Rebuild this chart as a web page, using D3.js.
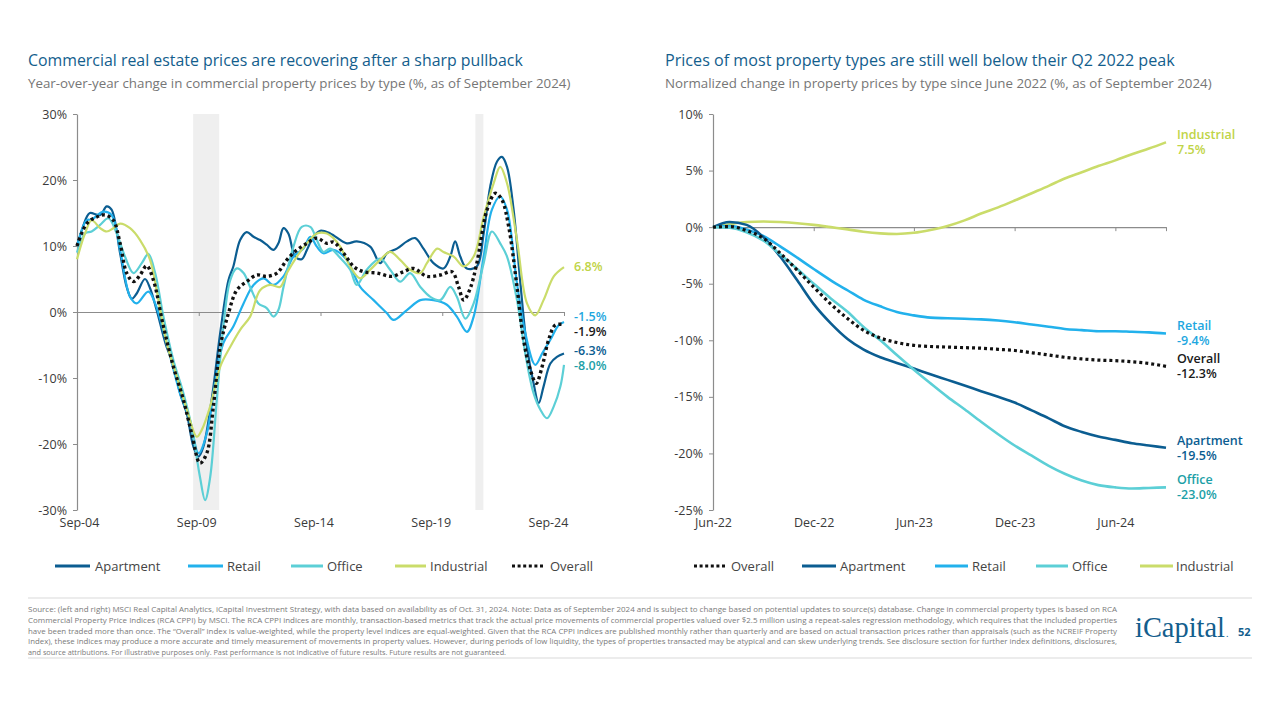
<!DOCTYPE html>
<html><head><meta charset="utf-8">
<script src="https://cdn.jsdelivr.net/npm/d3@7"></script>
<style>
body{margin:0;background:#fff;}
svg{display:block;font-family:"Open Sans",sans-serif;}
</style></head><body>
<svg id="c" width="1280" height="720"></svg>
<script>
// ---------------- DATA ----------------
// Left chart: year-over-year change (%), [decimal year, value]
const yoyTicks = [2004.67, 2009.67, 2014.67, 2019.67, 2024.67];
const yoyTickLabels = ["Sep-04", "Sep-09", "Sep-14", "Sep-19", "Sep-24"];
const yoyYTicks = [-30, -20, -10, 0, 10, 20, 30];
const shadedPeriods = [[2009.44, 2010.51], [2021.03, 2021.36]];

const yoyApartment = [[2004.67,10],[2005.07,14.4],[2005.20,15.0],[2005.62,14.7],[2005.89,16.0],[2006.09,15.5],[2006.44,8.9],[2006.71,3.8],[2006.92,2.0],[2007.12,2.8],[2007.46,5.0],[2007.67,3.6],[2007.94,0.3],[2008.35,-5.3],[2008.63,-7.8],[2008.90,-12.3],[2009.18,-15.4],[2009.45,-20.4],[2009.66,-21.9],[2009.86,-20.4],[2010.20,-13.3],[2010.55,-3.2],[2010.89,4.8],[2011.09,6.9],[2011.37,10.9],[2011.64,12.1],[2011.92,11.4],[2012.19,10.9],[2012.46,10.2],[2012.74,9.4],[2012.94,10.4],[2013.15,12.7],[2013.35,11.9],[2013.63,8.4],[2013.90,8.0],[2014.11,9.4],[2014.38,11.4],[2014.66,12.3],[2015.07,11.9],[2015.75,10.4],[2016.16,10.7],[2016.71,9.9],[2017.12,7.4],[2017.40,8.9],[2017.81,9.6],[2018.22,10.7],[2018.56,11.2],[2018.90,9.6],[2019.31,7.4],[2019.72,6.6],[2020.00,8.4],[2020.20,10.7],[2020.41,8.4],[2020.68,6.6],[2021.09,6.9],[2021.37,11.9],[2021.64,19.0],[2021.92,22.8],[2022.12,23.5],[2022.33,22.0],[2022.60,15.5],[2022.88,4.3],[2023.15,-5.3],[2023.42,-10.8],[2023.63,-13.8],[2023.83,-11.3],[2024.11,-7.8],[2024.38,-6.8],[2024.67,-6.3]];

const yoyRetail = [[2004.67,10],[2005.07,13.9],[2005.27,14.0],[2005.75,15.2],[2006.09,14.7],[2006.44,9.4],[2006.85,2.3],[2007.12,1.3],[2007.60,3.1],[2007.88,1.3],[2008.35,-4.7],[2008.90,-12.3],[2009.31,-16.4],[2009.66,-21.4],[2010.00,-18.4],[2010.34,-10.8],[2010.68,-4.7],[2011.09,-2.2],[2011.51,1.3],[2011.92,4.1],[2012.33,5.1],[2012.74,4.1],[2013.15,5.4],[2013.56,8.4],[2013.97,9.6],[2014.25,11.4],[2014.52,9.9],[2014.79,8.9],[2015.20,9.4],[2015.75,7.9],[2016.30,3.8],[2016.85,1.8],[2017.40,-0.2],[2017.67,-1.2],[2018.22,0.3],[2018.77,1.8],[2019.31,1.8],[2019.86,1.1],[2020.27,-0.7],[2020.68,-3.0],[2020.96,-0.7],[2021.37,8.4],[2021.71,15.5],[2022.05,17.5],[2022.33,15.5],[2022.74,4.3],[2023.08,-3.2],[2023.49,-8.0],[2023.77,-6.3],[2024.11,-4.2],[2024.45,-2.0],[2024.67,-1.5]];

const yoyOffice = [[2004.67,9.0],[2005.00,11.9],[2005.27,12.2],[2005.62,13.2],[2005.96,14.2],[2006.30,11.9],[2006.64,8.4],[2006.99,5.9],[2007.33,7.4],[2007.60,8.8],[2007.88,5.9],[2008.22,-0.7],[2008.63,-7.3],[2009.04,-12.3],[2009.38,-17.4],[2009.72,-25.0],[2009.93,-28.5],[2010.14,-25.0],[2010.41,-13.3],[2010.68,-2.2],[2010.96,4.8],[2011.23,6.6],[2011.51,5.9],[2011.78,3.8],[2012.12,1.3],[2012.46,0.6],[2012.74,-0.7],[2012.94,0.3],[2013.15,3.8],[2013.56,9.9],[2013.90,12.9],[2014.25,12.9],[2014.52,10.9],[2014.79,9.1],[2015.07,9.6],[2015.48,8.2],[2015.89,6.4],[2016.16,4.1],[2016.57,6.4],[2017.12,8.1],[2017.53,6.4],[2017.94,4.6],[2018.35,5.9],[2018.77,3.8],[2019.18,2.3],[2019.59,1.8],[2020.00,3.8],[2020.27,2.3],[2020.62,-1.0],[2020.96,1.3],[2021.37,7.4],[2021.71,12.2],[2022.05,10.4],[2022.33,8.4],[2022.74,1.8],[2023.08,-6.3],[2023.42,-12.3],[2023.70,-14.8],[2023.97,-16.1],[2024.25,-14.3],[2024.52,-11.3],[2024.67,-8.0]];

const yoyIndustrial = [[2004.67,8.0],[2005.00,11.9],[2005.27,13.9],[2005.62,12.7],[2005.89,12.2],[2006.16,12.7],[2006.44,13.4],[2006.85,12.7],[2007.26,10.9],[2007.67,7.9],[2007.94,3.3],[2008.35,-4.7],[2008.77,-9.8],[2009.18,-14.8],[2009.59,-18.9],[2009.79,-17.9],[2010.14,-14.3],[2010.55,-8.3],[2010.96,-5.3],[2011.37,-2.7],[2011.78,-0.7],[2012.19,3.3],[2012.60,4.1],[2013.01,3.8],[2013.29,5.9],[2013.70,8.4],[2014.11,10.4],[2014.52,11.9],[2014.93,11.9],[2015.20,11.2],[2015.48,9.9],[2015.89,6.9],[2016.30,5.1],[2016.71,6.4],[2017.12,7.9],[2017.53,9.1],[2017.94,7.9],[2018.35,6.4],[2018.77,5.9],[2019.04,7.4],[2019.46,9.6],[2019.72,9.1],[2020.14,8.4],[2020.55,6.9],[2020.96,8.4],[2021.37,14.4],[2021.78,19.5],[2022.05,22.0],[2022.33,19.5],[2022.74,10.9],[2023.15,1.3],[2023.49,-0.5],[2023.83,1.8],[2024.25,5.4],[2024.67,6.8]];

const yoyOverall = [[2004.67,10.0],[2005.07,13.4],[2005.48,14.4],[2005.82,14.7],[2006.16,13.9],[2006.44,10.4],[2006.71,5.9],[2006.99,4.6],[2007.26,5.6],[2007.53,7.0],[2007.81,4.8],[2008.22,-2.2],[2008.63,-8.3],[2009.04,-13.3],[2009.38,-18.4],[2009.72,-22.9],[2010.00,-21.4],[2010.27,-14.3],[2010.55,-5.3],[2010.89,-0.2],[2011.23,3.3],[2011.64,4.6],[2012.05,5.6],[2012.46,5.4],[2012.88,5.9],[2013.29,7.9],[2013.70,9.4],[2014.11,10.4],[2014.52,11.2],[2014.93,10.4],[2015.20,10.6],[2015.62,8.9],[2016.03,6.9],[2016.44,6.1],[2016.99,5.9],[2017.60,5.4],[2018.08,6.1],[2018.49,6.6],[2019.04,5.4],[2019.59,5.6],[2020.07,6.1],[2020.34,3.8],[2020.55,1.8],[2020.82,3.6],[2021.09,7.4],[2021.51,15.5],[2021.85,18.0],[2022.12,17.0],[2022.40,12.9],[2022.74,3.8],[2023.01,-4.2],[2023.29,-8.8],[2023.53,-10.8],[2023.77,-8.3],[2024.04,-4.2],[2024.31,-2.0],[2024.67,-1.9]];

const yoyEndLabels = [
  {series: "Industrial", value: 6.8, text: "6.8%"},
  {series: "Retail", value: -1.5, text: "-1.5%"},
  {series: "Overall", value: -1.9, text: "-1.9%"},
  {series: "Apartment", value: -6.3, text: "-6.3%"},
  {series: "Office", value: -8.0, text: "-8.0%"}
];

// Right chart: normalized change since June 2022 (%), monthly
const normMonths = ["2022-06","2022-07","2022-08","2022-09","2022-10","2022-11","2022-12",
  "2023-01","2023-02","2023-03","2023-04","2023-05","2023-06","2023-07","2023-08","2023-09","2023-10","2023-11","2023-12",
  "2024-01","2024-02","2024-03","2024-04","2024-05","2024-06","2024-07","2024-08","2024-09"];
const normTicks = ["2022-06","2022-12","2023-06","2023-12","2024-06"];
const normTickLabels = ["Jun-22","Dec-22","Jun-23","Dec-23","Jun-24"];
const normYTicks = [-25, -20, -15, -10, -5, 0, 5, 10];
const normOverall   = [0,0.05,-0.3,-1.0,-2.3,-3.8,-5.3,-6.8,-8.1,-9.1,-9.8,-10.2,-10.45,-10.55,-10.6,-10.65,-10.7,-10.8,-10.9,-11.1,-11.3,-11.5,-11.65,-11.75,-11.8,-11.9,-12.05,-12.3];
const normApartment = [0,0.45,0.2,-0.9,-2.6,-4.7,-6.8,-8.5,-9.9,-10.8,-11.5,-12.0,-12.5,-13.0,-13.5,-14.0,-14.5,-15.0,-15.5,-16.2,-16.9,-17.6,-18.1,-18.5,-18.8,-19.1,-19.3,-19.5];
const normRetail    = [0,0.1,-0.2,-0.8,-1.7,-2.7,-3.7,-4.7,-5.6,-6.4,-7.0,-7.5,-7.8,-8.0,-8.05,-8.1,-8.15,-8.25,-8.4,-8.6,-8.8,-9.0,-9.1,-9.2,-9.2,-9.25,-9.3,-9.4];
const normOffice    = [0,-0.05,-0.45,-1.2,-2.4,-3.7,-5.0,-6.3,-7.5,-8.8,-10.0,-11.3,-12.6,-13.8,-15.0,-16.1,-17.2,-18.3,-19.3,-20.2,-21.1,-21.8,-22.4,-22.8,-23.0,-23.1,-23.05,-23.0];
const normIndustrial= [0,0.25,0.45,0.5,0.45,0.35,0.2,0.0,-0.2,-0.4,-0.55,-0.6,-0.5,-0.25,0.1,0.6,1.2,1.75,2.35,3.0,3.65,4.3,4.85,5.4,5.9,6.45,6.95,7.5];
const normEndLabels = [
  {series: "Industrial", value: 7.5, text: "7.5%"},
  {series: "Retail", value: -9.4, text: "-9.4%"},
  {series: "Overall", value: -12.3, text: "-12.3%"},
  {series: "Apartment", value: -19.5, text: "-19.5%"},
  {series: "Office", value: -23.0, text: "-23.0%"}
];

const leftTitle = "Commercial real estate prices are recovering after a sharp pullback";
const leftSubtitle = "Year-over-year change in commercial property prices by type (%, as of September 2024)";
const rightTitle = "Prices of most property types are still well below their Q2 2022 peak";
const rightSubtitle = "Normalized change in property prices by type since June 2022 (%, as of September 2024)";
const footnote = [
  "Source: (left and right) MSCI Real Capital Analytics, iCapital Investment Strategy, with data based on availability as of Oct. 31, 2024. Note: Data as of September 2024 and is subject to change based on potential updates to source(s) database. Change in commercial property types is based on RCA",
  "Commercial Property Price Indices (RCA CPPI) by MSCI. The RCA CPPI indices are monthly, transaction-based metrics that track the actual price movements of commercial properties valued over $2.5 million using a repeat-sales regression methodology, which requires that the included properties",
  "have been traded more than once. The \u201cOverall\u201d index is value-weighted, while the property level indices are equal-weighted. Given that the RCA CPPI indices are published monthly rather than quarterly and are based on actual transaction prices rather than appraisals (such as the NCREIF Property",
  "Index), these indices may produce a more accurate and timely measurement of movements in property values. However, during periods of low liquidity, the types of properties transacted may be atypical and can skew underlying trends. See disclosure section for further index definitions, disclosures,",
  "and source attributions. For illustrative purposes only. Past performance is not indicative of future results. Future results are not guaranteed."
];

// ---------------- STYLE ----------------
const colors = {Apartment: "#0b5d91", Retail: "#22b1ec", Office: "#5ccfd6", Industrial: "#cadc6a", Overall: "#111111"};
const labelColors = {Apartment: "#0b5d91", Retail: "#1fa7e0", Office: "#1c9fa7", Industrial: "#bfd447", Overall: "#1a1a1a"};
const titleColor = "#135e8d";
const axisColor = "#8c8c8c";
const textColor = "#3a3a3a";

const svg = d3.select("#c");

function fitText(sel, width) {
  const l = sel.node().getComputedTextLength();
  const fs = parseFloat(sel.attr("font-size"));
  sel.attr("font-size", (fs * width / l).toFixed(2));
}

// Titles
fitText(svg.append("text").attr("x", 28).attr("y", 66).attr("font-size", 17).attr("font-weight", 500).attr("fill", titleColor).text(leftTitle), 495);
fitText(svg.append("text").attr("x", 28).attr("y", 88).attr("font-size", 13).attr("fill", "#767676").text(leftSubtitle), 543);
fitText(svg.append("text").attr("x", 665).attr("y", 66).attr("font-size", 17).attr("font-weight", 500).attr("fill", titleColor).text(rightTitle), 510);
fitText(svg.append("text").attr("x", 665).attr("y", 88).attr("font-size", 13).attr("fill", "#767676").text(rightSubtitle), 547);

// ---------------- LEFT CHART ----------------
const xL = d3.scaleLinear().domain([yoyTicks[0], yoyTicks[yoyTicks.length - 1]]).range([77, 564]);
const yL = d3.scaleLinear().domain([-30, 30]).range([510, 114]);
const gL = svg.append("g");

gL.selectAll("rect.shade").data(shadedPeriods).join("rect")
  .attr("x", d => xL(d[0])).attr("width", d => xL(d[1]) - xL(d[0]))
  .attr("y", yL(30)).attr("height", yL(-30) - yL(30)).attr("fill", "#efefef");

function styleAxis(g) {
  g.selectAll("path.domain").attr("stroke", axisColor).attr("stroke-width", 1.2);
  g.selectAll(".tick line").attr("stroke", axisColor).attr("stroke-width", 1);
  g.selectAll(".tick text").attr("fill", textColor).attr("font-size", 12.5).attr("font-family", "Open Sans, sans-serif");
}

gL.append("g").attr("transform", "translate(77,0)")
  .call(d3.axisLeft(yL).tickValues(yoyYTicks).tickSize(4).tickSizeOuter(0).tickPadding(6).tickFormat(d => d + "%"))
  .call(styleAxis);

gL.append("g").attr("transform", `translate(0,${yL(0)})`)
  .call(d3.axisBottom(xL).tickValues(yoyTicks).tickSize(4).tickSizeOuter(0).tickFormat(""))
  .call(styleAxis);

gL.append("g").attr("transform", "translate(0,510)")
  .call(d3.axisBottom(xL).tickValues(yoyTicks).tickSize(0).tickPadding(8).tickFormat((d, i) => yoyTickLabels[i]))
  .call(g => g.select("path.domain").remove())
  .call(styleAxis)
  .call(g => g.selectAll(".tick text").attr("dx", (d, i) => 2 - 4.5 * i));

const lineL = d3.line().x(d => xL(d[0])).y(d => yL(d[1])).curve(d3.curveCatmullRom.alpha(0.5));
const leftSeries = [
  {name: "Apartment", data: yoyApartment},
  {name: "Retail", data: yoyRetail},
  {name: "Office", data: yoyOffice},
  {name: "Industrial", data: yoyIndustrial},
  {name: "Overall", data: yoyOverall}
];
gL.selectAll("path.series").data(leftSeries).join("path")
  .attr("fill", "none")
  .attr("stroke", d => colors[d.name])
  .attr("stroke-width", d => d.name === "Overall" ? 3.4 : 2.2)
  .attr("stroke-dasharray", d => d.name === "Overall" ? "3 3" : null)
  .attr("d", d => lineL(d.data));

const leftNudge = {Industrial: 0, Retail: -5, Overall: 7.5, Apartment: -2.5, Office: 1};
gL.selectAll("text.endlab").data(yoyEndLabels).join("text")
  .attr("x", 574).attr("y", d => yL(d.value) + leftNudge[d.series]).attr("dy", "0.35em")
  .attr("font-size", 12.5).attr("font-weight", 600)
  .attr("fill", d => labelColors[d.series]).text(d => d.text);

// Legends
const legL = [
  {name: "Apartment", x1: 55, x2: 90, tx: 95},
  {name: "Retail", x1: 188, x2: 223, tx: 227},
  {name: "Office", x1: 291, x2: 323, tx: 327},
  {name: "Industrial", x1: 395, x2: 426, tx: 430},
  {name: "Overall", x1: 512, x2: 545, tx: 550}
];
const legR = [
  {name: "Overall", x1: 694, x2: 726, tx: 731},
  {name: "Apartment", x1: 802, x2: 836, tx: 840},
  {name: "Retail", x1: 935, x2: 968, tx: 972},
  {name: "Office", x1: 1036, x2: 1068, tx: 1072},
  {name: "Industrial", x1: 1140, x2: 1173, tx: 1176}
];
function legend(items) {
  const g = svg.append("g");
  g.selectAll("line").data(items).join("line")
    .attr("x1", d => d.x1).attr("x2", d => d.x2).attr("y1", 566).attr("y2", 566)
    .attr("stroke", d => colors[d.name])
    .attr("stroke-width", 3)
    .attr("stroke-dasharray", d => d.name === "Overall" ? "3 2.6" : null);
  g.selectAll("text").data(items).join("text")
    .attr("x", d => d.tx).attr("y", 566).attr("dy", "0.35em")
    .attr("font-size", 13).attr("fill", "#444").text(d => d.name);
}
legend(legL);
legend(legR);

// ---------------- RIGHT CHART ----------------
const parseM = d3.timeParse("%Y-%m");
const xR = d3.scaleTime().domain([parseM(normMonths[0]), parseM(normMonths[normMonths.length - 1])]).range([713, 1166]);
const yR = d3.scaleLinear().domain([-25, 10]).range([510, 114]);
const gR = svg.append("g");

gR.append("g").attr("transform", "translate(713,0)")
  .call(d3.axisLeft(yR).tickValues(normYTicks).tickSize(4).tickSizeOuter(0).tickPadding(6).tickFormat(d => d + "%"))
  .call(styleAxis);

gR.append("g").attr("transform", `translate(0,${yR(0)})`)
  .call(d3.axisBottom(xR).tickValues(normTicks.map(parseM).concat([parseM(normMonths[normMonths.length - 1])])).tickSize(4).tickSizeOuter(0).tickFormat(""))
  .call(styleAxis);

gR.append("g").attr("transform", "translate(0,510)")
  .call(d3.axisBottom(xR).tickValues(normTicks.map(parseM)).tickSize(0).tickPadding(8).tickFormat((d, i) => normTickLabels[i]))
  .call(g => g.select("path.domain").remove())
  .call(styleAxis);

const rightSeries = [
  {name: "Industrial", data: normIndustrial},
  {name: "Retail", data: normRetail},
  {name: "Apartment", data: normApartment},
  {name: "Office", data: normOffice},
  {name: "Overall", data: normOverall}
];
const lineR = d3.line().x((d, i) => xR(parseM(normMonths[i]))).y(d => yR(d)).curve(d3.curveMonotoneX);
gR.selectAll("path.series").data(rightSeries).join("path")
  .attr("fill", "none")
  .attr("stroke", d => colors[d.name])
  .attr("stroke-width", d => d.name === "Overall" ? 3.2 : 2.6)
  .attr("stroke-dasharray", d => d.name === "Overall" ? "3 3" : null)
  .attr("d", d => lineR(d.data));

const rl = gR.selectAll("g.endlab").data(normEndLabels).join("g")
  .attr("transform", d => `translate(1177,${yR(d.value)})`)
  .attr("fill", d => labelColors[d.series]).attr("font-size", 12.5).attr("font-weight", 600);
rl.append("text").attr("y", -7.5).attr("dy", "0.35em").text(d => d.series);
rl.append("text").attr("y", 7.5).attr("dy", "0.35em").text(d => d.text);

// ---------------- FOOTER ----------------
svg.append("line").attr("x1", 28).attr("x2", 1252).attr("y1", 598).attr("y2", 598).attr("stroke", "#d9d9d9").attr("stroke-width", 1.2);
svg.append("line").attr("x1", 28).attr("x2", 1252).attr("y1", 658).attr("y2", 658).attr("stroke", "#d9d9d9").attr("stroke-width", 1.2);
svg.selectAll("text.foot").data(footnote).join("text")
  .attr("x", 28).attr("y", (d, i) => 612 + i * 10.8)
  .attr("font-size", 7.3).attr("fill", "#7a7a7a")
  .attr("textLength", (d, i) => i < 4 ? 1089 : null)
  .attr("lengthAdjust", "spacingAndGlyphs")
  .text(d => d);

const logo = svg.append("text").attr("x", 1135).attr("y", 637).attr("font-size", 30)
  .attr("font-family", "Liberation Serif, DejaVu Serif, serif").attr("fill", titleColor).text("iCapital");
fitText(logo, 90);
svg.append("text").attr("x", 1226).attr("y", 637).attr("font-size", 10).attr("fill", titleColor).attr("font-family", "Liberation Serif, serif").text(".");
svg.append("text").attr("x", 1238).attr("y", 636).attr("font-size", 11).attr("font-weight", 700).attr("fill", titleColor).text("52");
</script>
</body></html>
